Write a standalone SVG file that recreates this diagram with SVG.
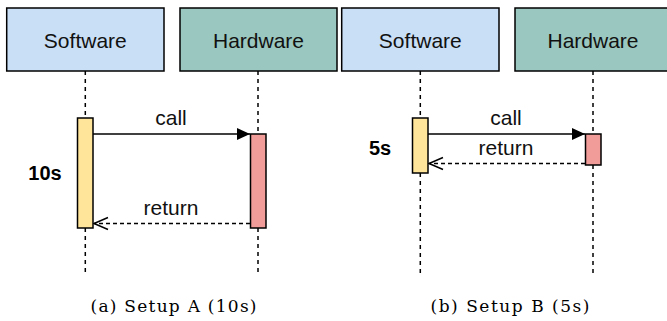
<svg xmlns="http://www.w3.org/2000/svg" width="667" height="321" viewBox="0 0 667 321">
<defs>
<style>
.box{stroke:#000;stroke-width:1.5}
.sw{fill:#c9dff6}
.hw{fill:#9ac7bf}
.actS{fill:#ffe599;stroke:#000;stroke-width:1.5}
.actH{fill:#f19c99;stroke:#000;stroke-width:1.5}
.life{stroke:#000;stroke-width:1.5;stroke-dasharray:4 4;fill:none}
.msg{stroke:#000;stroke-width:1.5;fill:none}
.ret{stroke:#000;stroke-width:1.5;stroke-dasharray:4 3;fill:none}
.lbl{font-family:"Liberation Sans",Arial,sans-serif;font-size:21px;fill:#111;text-anchor:middle}
.bold{font-family:"Liberation Sans",Arial,sans-serif;font-size:20px;font-weight:bold;fill:#000;text-anchor:middle}
.cap{font-family:"DejaVu Serif","Liberation Serif",serif;font-size:17px;fill:#000}
</style>
<marker id="fill" markerUnits="userSpaceOnUse" markerWidth="14" markerHeight="14" viewBox="0 0 14 14" refX="13" refY="7" orient="auto">
<path d="M0,1 L13,7 L0,13 Z" fill="#000"/>
</marker>
<marker id="open" markerUnits="userSpaceOnUse" markerWidth="18" markerHeight="16" viewBox="0 0 18 16" refX="16" refY="8" orient="auto">
<path d="M2,2 L16,8 L2,14" fill="none" stroke="#000" stroke-width="1.5"/>
</marker>
</defs>

<g id="connectors">
<!-- lifelines A -->
<line class="life" x1="85.3" y1="71" x2="85.3" y2="118"/>
<line class="life" x1="85.3" y1="228" x2="85.3" y2="274"/>
<line class="life" x1="258" y1="71" x2="258" y2="134"/>
<line class="life" x1="258" y1="228" x2="258" y2="274"/>
<!-- lifelines B -->
<line class="life" x1="420.3" y1="71" x2="420.3" y2="118"/>
<line class="life" x1="420.3" y1="173" x2="420.3" y2="274"/>
<line class="life" x1="593" y1="71" x2="593" y2="134"/>
<line class="life" x1="593" y1="165" x2="593" y2="274"/>
<!-- messages A -->
<line class="msg" x1="93" y1="134" x2="250" y2="134" marker-end="url(#fill)"/>
<line class="ret" x1="250" y1="223.5" x2="94" y2="223.5" marker-end="url(#open)"/>
<!-- messages B -->
<line class="msg" x1="428" y1="134" x2="585" y2="134" marker-end="url(#fill)"/>
<line class="ret" x1="585" y1="163.5" x2="429" y2="163.5" marker-end="url(#open)"/>
</g>

<g id="softwareA">
<rect class="box sw" x="6.7" y="8" width="157.3" height="63"/>
<text class="lbl" x="85.3" y="47.7">Software</text>
</g>
<g id="hardwareA">
<rect class="box hw" x="180" y="8" width="157" height="63"/>
<text class="lbl" x="258.5" y="47.7">Hardware</text>
</g>
<g id="softwareB">
<rect class="box sw" x="341.7" y="8" width="157.3" height="63"/>
<text class="lbl" x="420.3" y="47.7">Software</text>
</g>
<g id="hardwareB">
<rect class="box hw" x="515" y="8" width="157" height="63"/>
<text class="lbl" x="593" y="47.7">Hardware</text>
</g>

<g id="activationA-sw"><rect class="actS" x="77.5" y="118" width="15.5" height="110"/></g>
<g id="activationA-hw"><rect class="actH" x="250.5" y="134" width="15.5" height="94"/></g>
<g id="activationB-sw"><rect class="actS" x="412.5" y="118" width="15.5" height="55"/></g>
<g id="activationB-hw"><rect class="actH" x="585.5" y="134" width="15.5" height="31"/></g>

<g id="labels">
<text class="lbl" x="171" y="125">call</text>
<text class="lbl" x="171" y="215">return</text>
<text class="bold" x="45" y="180">10s</text>
<text class="lbl" x="506" y="125">call</text>
<text class="lbl" x="506" y="155">return</text>
<text class="bold" x="380" y="155">5s</text>
</g>

<g id="captions">
<text class="cap" x="90.5" y="312" textLength="166" lengthAdjust="spacing">(a) Setup A (10s)</text>
<text class="cap" x="430.5" y="312" textLength="159" lengthAdjust="spacing">(b) Setup B (5s)</text>
</g>
</svg>
